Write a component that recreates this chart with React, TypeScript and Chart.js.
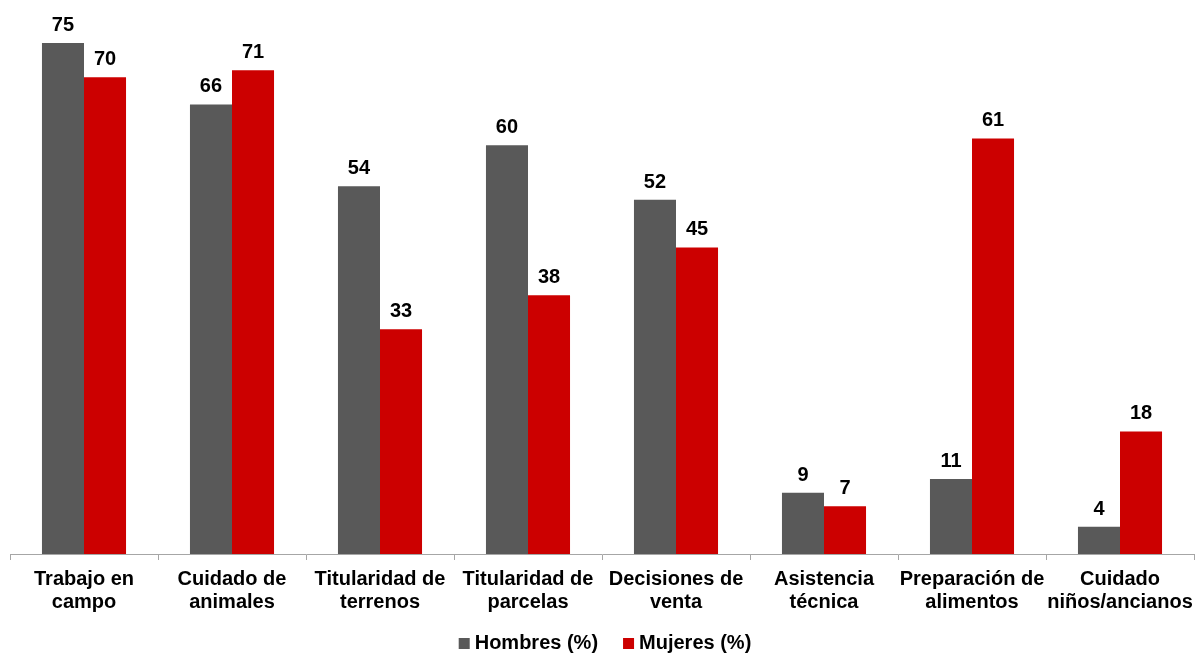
import React, { useEffect, useRef } from "react";
import { Chart, registerables } from "chart.js";

Chart.register(...registerables);

const categories: string[][] = [
  ["Trabajo en", "campo"],
  ["Cuidado de", "animales"],
  ["Titularidad de", "terrenos"],
  ["Titularidad de", "parcelas"],
  ["Decisiones de", "venta"],
  ["Asistencia", "técnica"],
  ["Preparación de", "alimentos"],
  ["Cuidado", "niños/ancianos"],
];

const hombres: number[] = [75, 66, 54, 60, 52, 9, 11, 4];
const mujeres: number[] = [70, 71, 33, 38, 45, 7, 61, 18];

const FONT = "'Liberation Sans', Arial, sans-serif";
const BOLD20 = `bold 20px ${FONT}`;

// Writes each bar's value just above its top edge.
const valueLabels = {
  id: "valueLabels",
  afterDatasetsDraw(chart: any) {
    const { ctx } = chart;
    ctx.save();
    ctx.font = BOLD20;
    ctx.fillStyle = "#000";
    ctx.textAlign = "center";
    ctx.textBaseline = "alphabetic";
    chart.data.datasets.forEach((ds: any, i: number) => {
      const meta = chart.getDatasetMeta(i);
      meta.data.forEach((bar: any, j: number) => {
        ctx.fillText(String(ds.data[j]), bar.x, bar.y - 12);
      });
    });
    ctx.restore();
  },
};

// Compact legend along the bottom: small square swatch, tight gap, bold text.
const bottomLegend = {
  id: "bottomLegend",
  afterDraw(chart: any) {
    const { ctx, chartArea } = chart;
    const box = 11;
    const textGap = 5;
    const itemGap = 25;
    const y = chart.height - 10;
    ctx.save();
    ctx.font = BOLD20;
    const items = chart.data.datasets.map((ds: any) => ({
      label: ds.label as string,
      color: ds.backgroundColor as string,
      w: ctx.measureText(ds.label).width,
    }));
    const total =
      items.reduce((s: number, it: any) => s + box + textGap + it.w, 0) +
      itemGap * (items.length - 1);
    let x = (chartArea.left + chartArea.right) / 2 - total / 2 + 3;
    ctx.textBaseline = "middle";
    ctx.textAlign = "left";
    items.forEach((it: any) => {
      ctx.fillStyle = it.color;
      ctx.fillRect(x, y - box / 2 + 0.5, box, box);
      ctx.fillStyle = "#000";
      ctx.fillText(it.label, x + box + textGap, y);
      x += box + textGap + it.w + itemGap;
    });
    ctx.restore();
  },
};

export default function App() {
  const ref = useRef<HTMLCanvasElement>(null);

  useEffect(() => {
    if (!ref.current) return;
    const chart = new Chart(ref.current, {
      type: "bar",
      data: {
        labels: categories,
        datasets: [
          {
            label: "Hombres (%)",
            data: hombres,
            backgroundColor: "#595959",
            categoryPercentage: 0.568,
            barPercentage: 1,
          },
          {
            label: "Mujeres (%)",
            data: mujeres,
            backgroundColor: "#CC0000",
            categoryPercentage: 0.568,
            barPercentage: 1,
          },
        ],
      },
      options: {
        responsive: false,
        animation: false,
        layout: { padding: { left: 10, right: 1, top: 9, bottom: 31 } },
        plugins: {
          legend: { display: false },
          tooltip: { enabled: false },
        },
        scales: {
          x: {
            afterFit: (scale: any) => {
              // labels fit inside their category slots, no extra side room needed
              scale.paddingLeft = 0;
              scale.paddingRight = 0;
            },
            grid: {
              display: true,
              drawOnChartArea: false,
              drawTicks: true,
              tickLength: 6,
              color: "#A6A6A6",
              offset: true,
            },
            border: { display: true, color: "#A6A6A6", width: 1 },
            ticks: {
              autoSkip: false,
              maxRotation: 0,
              minRotation: 0,
              padding: 8,
              color: "#000",
              font: { family: FONT, size: 20, weight: "bold", lineHeight: 1.15 },
            },
          },
          y: {
            display: false,
            min: 0,
            max: 80,
          },
        },
      },
      plugins: [valueLabels, bottomLegend],
    });
    return () => chart.destroy();
  }, []);

  return (
    <canvas
      ref={ref}
      width={1195}
      height={653}
      style={{ position: "absolute", left: 0, top: 0, width: 1195, height: 653 }}
    />
  );
}
